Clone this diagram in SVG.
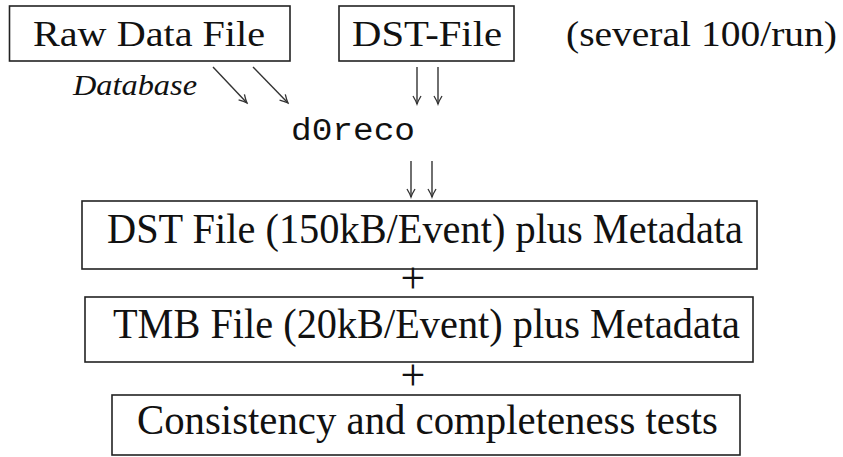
<svg xmlns="http://www.w3.org/2000/svg" width="843" height="457" viewBox="0 0 843 457">
  <style>
    .box { fill: #ffffff; stroke: #222222; stroke-width: 1.6; }
    .serif { font-family: "Liberation Serif", "Times New Roman", serif; fill: #111111; }
    .mono { font-family: "Liberation Mono", "Courier New", monospace; fill: #111111; }
    .arrow { stroke: #333333; stroke-width: 1.4; fill: none; marker-end: url(#head); }
  </style>
  <defs>
    <marker id="head" viewBox="-10 -6 12 12" markerWidth="12" markerHeight="12" markerUnits="userSpaceOnUse" refX="0" refY="0" orient="auto">
      <path d="M -8 -4 Q -3 -1 0 0 Q -3 1 -8 4" fill="none" stroke="#333333" stroke-width="1.3"/>
    </marker>
  </defs>
  <rect width="843" height="457" fill="#ffffff"/>

  <g id="raw-data-file">
    <rect class="box" x="9.5" y="6" width="280.5" height="55"/>
    <text class="serif" x="33" y="46" font-size="35" textLength="232" lengthAdjust="spacingAndGlyphs">Raw Data File</text>
  </g>

  <g id="dst-file-input">
    <rect class="box" x="339" y="6" width="175" height="55"/>
    <text class="serif" x="352" y="46" font-size="35" textLength="150" lengthAdjust="spacingAndGlyphs">DST-File</text>
  </g>

  <g id="run-note">
    <text class="serif" x="566" y="46" font-size="35" textLength="271" lengthAdjust="spacingAndGlyphs">(several 100/run)</text>
  </g>

  <g id="database-label">
    <text class="serif" x="73" y="95" font-size="30" font-style="italic" textLength="124" lengthAdjust="spacingAndGlyphs">Database</text>
  </g>

  <g id="d0reco">
    <text class="mono" x="291" y="140" font-size="31" textLength="124" lengthAdjust="spacingAndGlyphs">d0reco</text>
  </g>

  <g id="dst-output">
    <rect class="box" x="82" y="201" width="675" height="68"/>
    <text class="serif" x="107" y="243" font-size="43" textLength="636" lengthAdjust="spacingAndGlyphs">DST File (150kB/Event) plus Metadata</text>
  </g>

  <g id="plus-1">
    <text class="serif" x="413" y="293" font-size="44" text-anchor="middle">+</text>
  </g>

  <g id="tmb-output">
    <rect class="box" x="85" y="297" width="668" height="65"/>
    <text class="serif" x="113" y="338" font-size="43" textLength="627" lengthAdjust="spacingAndGlyphs">TMB File (20kB/Event) plus Metadata</text>
  </g>

  <g id="plus-2">
    <text class="serif" x="413" y="390" font-size="44" text-anchor="middle">+</text>
  </g>

  <g id="tests">
    <rect class="box" x="112" y="395" width="628" height="60"/>
    <text class="serif" x="137" y="434" font-size="43" textLength="581" lengthAdjust="spacingAndGlyphs">Consistency and completeness tests</text>
  </g>

  <g id="connectors">
    <line class="arrow" x1="213" y1="67" x2="247" y2="103"/>
    <line class="arrow" x1="253" y1="67" x2="288" y2="103"/>
    <line class="arrow" x1="417" y1="67" x2="417" y2="104"/>
    <line class="arrow" x1="438" y1="67" x2="438" y2="104"/>
    <line class="arrow" x1="411" y1="161" x2="411" y2="197"/>
    <line class="arrow" x1="432" y1="161" x2="432" y2="197"/>
  </g>
</svg>
